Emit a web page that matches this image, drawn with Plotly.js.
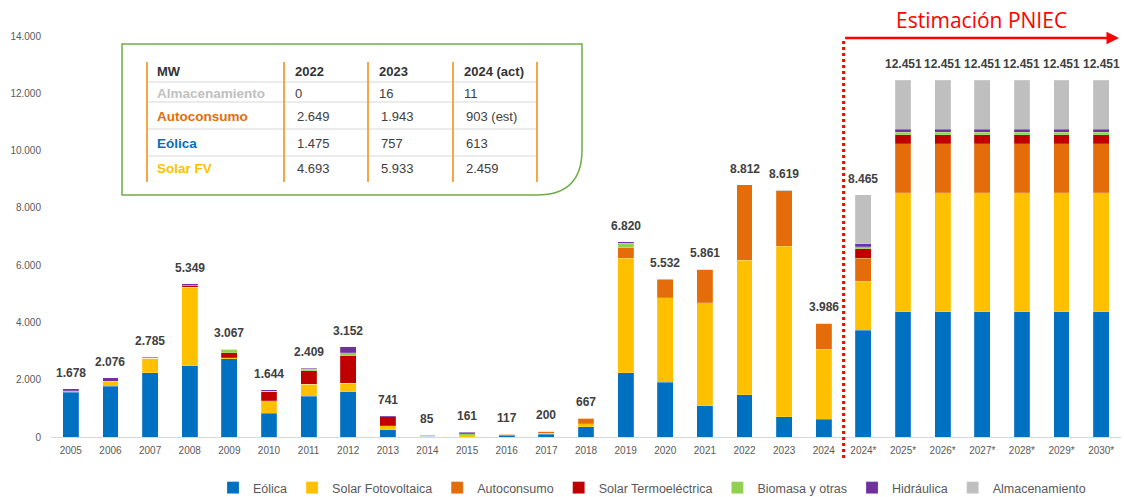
<!DOCTYPE html>
<html>
<head>
<meta charset="utf-8">
<script src="https://cdn.plot.ly/plotly-3.0.1.min.js"></script>
<style>html,body{margin:0;padding:0;background:#fff;}#chart{width:1124px;height:497px;}</style>
</head>
<body>
<div id="chart"></div>
<script>
// ---------- DATA ----------
const categories = ['2005','2006','2007','2008','2009','2010','2011','2012','2013','2014','2015','2016','2017','2018','2019','2020','2021','2022','2023','2024','2024*','2025*','2026*','2027*','2028*','2029*','2030*'];
const eolica        = [1560,1780,2245,2480,2735, 830,1430,1580, 245, 20,  0, 40, 90,360,2245,1910,1095,1470, 700, 613,3735,4365,4365,4365,4365,4365,4365];
const solarFV       = [  20, 150, 500,2750,  30, 440, 410, 290, 140,  5, 50,  0, 40, 95,3995,2955,3600,4693,5960,2459,1710,4170,4170,4170,4170,4170,4170];
const autoconsumo   = [   0,   0,   0,   0,   0,   0,   0,   0,   0,  0,  0, 50, 70,200, 385, 620,1150,2649,1943, 903, 795,1700,1700,1700,1700,1700,1700];
const termoelectrica= [   0,   0,  10,  60, 170, 310, 480, 970, 320,  0,  0,  0,  0,  0,   0,   0,   0,   0,   0,   0, 325, 325, 325, 325, 325, 325, 325];
const biomasa       = [  30,  10,   0,   0, 132,  20,  50, 110,   0, 45, 70,  0,  0,  0, 140,  47,  16,   0,   0,   0,  80,  80,  80,  80,  80,  80,  80];
const hidraulica    = [  68, 136,  30,  59,   0,  44,  39, 202,  36, 15, 41, 27,  0, 12,  55,   0,   0,   0,   0,   0,  95, 105, 105, 105, 105, 105, 105];
const almacenamiento= [   0,   0,   0,   0,   0,   0,   0,   0,   0,  0,  0,  0,  0,  0,   0,   0,   0,   0,  16,  11,1725,1706,1706,1706,1706,1706,1706];

const seriesNames  = ['Eólica','Solar Fotovoltaica','Autoconsumo','Solar Termoeléctrica','Biomasa y otras','Hidráulica','Almacenamiento'];
const seriesValues = [eolica, solarFV, autoconsumo, termoelectrica, biomasa, hidraulica, almacenamiento];
const seriesColors = ['#0070C0','#FFC000','#E46C0A','#C00000','#92D050','#7030A0','#BFBFBF'];

const tableHeader = ['MW','2022','2023','2024 (act)'];
const tableLabels = ['Almacenamiento','Autoconsumo','Eólica','Solar FV'];
const tableLabelColors = ['#BFBFBF','#E46C0A','#0070C0','#FFC000'];
const tableValues = [
  ['0','16','11'],
  ['2.649','1.943','903 (est)'],
  ['1.475','757','613'],
  ['4.693','5.933','2.459']
];
const estimationLabel = 'Estimación PNIEC';

// ---------- HELPERS ----------
const fmt = n => String(n).replace(/\B(?=(\d{3})+(?!\d))/g, '.');
const PL = 51, PW = 1070, PB = 437, PH = 401;
const fx = px => (px - PL) / PW;
const fy = py => (PB - py) / PH;
const splitIdx = categories.indexOf('2024*') - 0.5;
const lastIdx = categories.length - 1;

// ---------- TRACES ----------
const traces = seriesNames.map((name, i) => ({
  type: 'bar',
  name: name,
  x: categories,
  y: seriesValues[i],
  marker: {color: seriesColors[i], line: {color: 'rgba(255,255,255,0.35)', width: 0.5}},
  hoverinfo: 'x+y+name'
}));

const totals = categories.map((c, j) => seriesValues.reduce((s, arr) => s + arr[j], 0));

const annotations = [];
categories.forEach((c, j) => {
  annotations.push({
    x: j, y: totals[j], xref: 'x', yref: 'y',
    text: '<b>' + fmt(totals[j]) + '</b>',
    showarrow: false, yanchor: 'bottom', yshift: 7,
    font: {family: 'Liberation Sans, Arial, sans-serif', size: 12, color: '#404040'}
  });
});

// Estimation header + arrow
annotations.push({
  x: lastIdx + 0.45, y: fy(38), xref: 'x', yref: 'paper',
  ax: splitIdx, ay: 0, axref: 'x', ayref: 'pixel',
  text: '', showarrow: true, arrowhead: 2, arrowsize: 1, arrowwidth: 2.5, arrowcolor: '#FF0000', standoff: 0, startstandoff: 0
});
annotations.push({
  x: fx(981), y: fy(20), xref: 'paper', yref: 'paper',
  text: estimationLabel, showarrow: false, xanchor: 'center', yanchor: 'middle',
  font: {family: 'Open Sans, sans-serif', size: 21, color: '#FF0000'}
});

// Table texts
const colX = [155, 293, 377, 462];
const rowY = [72, 93, 116, 143, 168];
tableHeader.forEach((t, k) => {
  annotations.push({
    x: fx(colX[k]), y: fy(rowY[0]), xref: 'paper', yref: 'paper', xanchor: 'left', yanchor: 'middle',
    text: '<b>' + t + '</b>', showarrow: false,
    font: {family: 'Liberation Sans, Arial, sans-serif', size: 13, color: '#333333'}
  });
});
tableLabels.forEach((lab, r) => {
  annotations.push({
    x: fx(colX[0]), y: fy(rowY[r + 1]), xref: 'paper', yref: 'paper', xanchor: 'left', yanchor: 'middle',
    text: '<b>' + lab + '</b>', showarrow: false,
    font: {family: 'Liberation Sans, Arial, sans-serif', size: 13.5, color: tableLabelColors[r]}
  });
  tableValues[r].forEach((v, k) => {
    annotations.push({
      x: fx(colX[k + 1] + (r === 0 ? 0 : 2)), y: fy(rowY[r + 1]), xref: 'paper', yref: 'paper', xanchor: 'left', yanchor: 'middle',
      text: v, showarrow: false,
      font: {family: 'Liberation Sans, Arial, sans-serif', size: 13, color: '#404040'}
    });
  });
});

// Shapes
const shapes = [];
shapes.push({type: 'line', xref: 'x', yref: 'paper', x0: splitIdx, x1: splitIdx, y0: fy(458), y1: fy(38),
  line: {color: '#FF0000', width: 3, dash: 'dot'}});
shapes.push({type: 'path', xref: 'paper', yref: 'paper',
  path: 'M ' + fx(122) + ' ' + fy(44) + ' L ' + fx(582) + ' ' + fy(44) + ' L ' + fx(582) + ' ' + fy(150) +
        ' Q ' + fx(582) + ' ' + fy(195) + ' ' + fx(537) + ' ' + fy(195) + ' L ' + fx(122) + ' ' + fy(195) + ' Z',
  line: {color: '#70AD47', width: 1.5}, fillcolor: 'rgba(0,0,0,0)'});
[82, 102, 129, 156].forEach(py => {
  shapes.push({type: 'line', xref: 'paper', yref: 'paper', x0: fx(147), x1: fx(537), y0: fy(py), y1: fy(py),
    line: {color: '#EBEBEB', width: 2}});
});
[147, 284, 368, 453, 537].forEach(px => {
  shapes.push({type: 'line', xref: 'paper', yref: 'paper', x0: fx(px), x1: fx(px), y0: fy(62), y1: fy(182),
    line: {color: '#F7A645', width: 2}});
});

const layout = {
  width: 1124, height: 497,
  margin: {l: PL, r: 1124 - PL - PW, t: PB - PH, b: 497 - PB, autoexpand: false},
  paper_bgcolor: '#ffffff', plot_bgcolor: '#ffffff',
  barmode: 'stack', bargap: 0.6,
  separators: ',.',
  font: {family: 'Liberation Sans, Arial, sans-serif', color: '#595959'},
  showlegend: true,
  legend: {orientation: 'h', x: fx(652), xanchor: 'center', y: fy(488), yanchor: 'middle',
    traceorder: 'normal', font: {size: 12.5, color: '#595959'}, bgcolor: 'rgba(0,0,0,0)'},
  xaxis: {type: 'category', categoryorder: 'array', categoryarray: categories, range: [-0.5, lastIdx + 0.5],
    showline: true, linecolor: '#D9D9D9', linewidth: 1, ticks: '', tickangle: 0,
    tickfont: {size: 10, color: '#595959'}, showgrid: false, zeroline: false, ticklabelstandoff: 4},
  yaxis: {range: [0, 14000], dtick: 2000, tickformat: ',d', separatethousands: true, showgrid: false,
    zeroline: false, showline: false, ticks: '', tickfont: {size: 10, color: '#595959'}, ticklabelstandoff: 9},
  annotations: annotations,
  shapes: shapes
};

Plotly.newPlot('chart', traces, layout, {displayModeBar: false, staticPlot: true});
</script>
</body>
</html>
